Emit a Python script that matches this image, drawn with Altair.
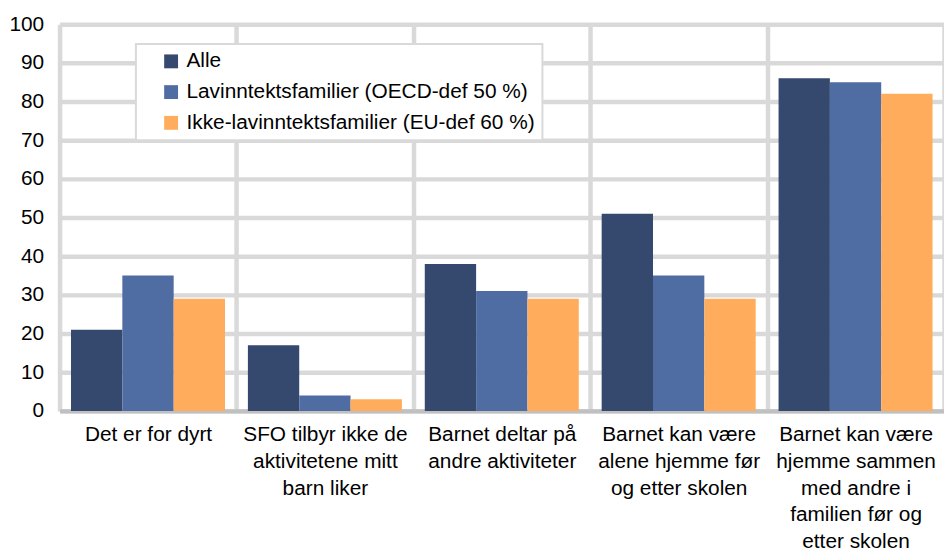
import altair as alt
import pandas as pd

categories = [
    "Det er for dyrt",
    "SFO tilbyr ikke de\naktivitetene mitt\nbarn liker",
    "Barnet deltar på\nandre aktiviteter",
    "Barnet kan være\nalene hjemme før\nog etter skolen",
    "Barnet kan være\nhjemme sammen\nmed andre i\nfamilien før og\netter skolen",
]
series = [
    "Alle",
    "Lavinntektsfamilier (OECD-def 50 %)",
    "Ikke-lavinntektsfamilier (EU-def 60 %)",
]
alle = [21, 17, 38, 51, 86]
lavinntekt = [35, 4, 31, 35, 85]
ikke_lavinntekt = [29, 3, 29, 29, 82]
colors = ["#35496e", "#4f6da3", "#ffac5d"]
y_ticks = list(range(0, 101, 10))

rows = []
for s, vals in zip(series, [alle, lavinntekt, ikke_lavinntekt]):
    for c, v in zip(categories, vals):
        rows.append({"kategori": c, "serie": s, "verdi": v})
df = pd.DataFrame(rows)

FONT = "Liberation Sans"
FS = 21

chart = alt.Chart(df).mark_bar().encode(
    x=alt.X(
        "kategori:N",
        sort=categories,
        title=None,
        scale=alt.Scale(paddingInner=0, paddingOuter=0),
        axis=alt.Axis(
            labelAngle=0,
            labelExpr="split(datum.label, '\\n')",
            labelLineHeight=27,
            labelPadding=13,
            labelBaseline="top",
            labelFont=FONT,
            labelFontSize=FS,
            labelColor="#000000",
            labelLimit=0,
            ticks=False,
            tickBand="extent",
            grid=True,
            gridColor="#d9d9d9",
            gridWidth=4.5,
            domain=True,
            domainColor="#c0c0c0",
            domainWidth=4.5,
        ),
    ),
    xOffset=alt.XOffset(
        "serie:N",
        sort=series,
        scale=alt.Scale(paddingInner=0, paddingOuter=0.223),
    ),
    y=alt.Y(
        "verdi:Q",
        title=None,
        scale=alt.Scale(domain=[0, 100], nice=False),
        axis=alt.Axis(
            values=y_ticks,
            labelFont=FONT,
            labelFontSize=FS,
            labelColor="#000000",
            labelPadding=16,
            ticks=False,
            domain=False,
            grid=True,
            gridColor="#d9d9d9",
            gridWidth=4.5,
        ),
    ),
    color=alt.Color(
        "serie:N",
        sort=series,
        scale=alt.Scale(domain=series, range=colors),
        legend=alt.Legend(
            title=None,
            orient="none",
            legendX=77,
            legendY=20,
            symbolType="square",
            symbolSize=196,
            symbolStrokeWidth=0,
            symbolOffset=18,
            labelOffset=5,
            labelFont=FONT,
            labelFontSize=FS,
            labelColor="#000000",
            labelLimit=0,
            rowPadding=9,
            padding=7,
            strokeColor="#d9d9d9",
            fillColor="#ffffff",
        ),
    ),
).properties(
    width=892,
    height=390,
    autosize=alt.AutoSizeParams(type="none"),
    padding={"left": 52, "top": 14, "right": 0, "bottom": 140},
).configure_view(stroke=None).configure_legend(strokeWidth=2)

chart.save("out.html", embed_options={"renderer": "svg", "actions": False})
